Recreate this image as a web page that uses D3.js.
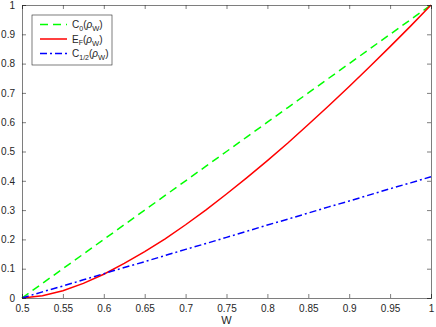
<!DOCTYPE html>
<html>
<head>
<meta charset="utf-8">
<script src="https://cdn.jsdelivr.net/npm/d3@7"></script>
<style>
  body { margin: 0; background: #fff; }
  svg { font-family: "Liberation Sans", Arial, Helvetica, sans-serif; }
</style>
</head>
<body>
<div id="chart"></div>
<script>
// W grid and the three curves
var wValues = [0.5, 0.525, 0.55, 0.575, 0.6, 0.625, 0.65, 0.675, 0.7, 0.725, 0.75,
               0.775, 0.8, 0.825, 0.85, 0.875, 0.9, 0.925, 0.95, 0.975, 1];
var c0Values = [0, 0.05, 0.1, 0.15, 0.2, 0.25, 0.3, 0.35, 0.4, 0.45, 0.5,
                0.55, 0.6, 0.65, 0.7, 0.75, 0.8, 0.85, 0.9, 0.95, 1];
var efValues = [0, 0.008, 0.025, 0.050, 0.081, 0.118, 0.158, 0.202, 0.250, 0.301, 0.355,
                0.411, 0.469, 0.529, 0.592, 0.656, 0.722, 0.789, 0.858, 0.928, 1];
var cHalfValues = [0, 0.021, 0.041, 0.062, 0.083, 0.104, 0.124, 0.145, 0.166, 0.186, 0.207,
                   0.228, 0.249, 0.269, 0.290, 0.311, 0.331, 0.352, 0.373, 0.393, 0.414];
var xTicks = [0.5, 0.55, 0.6, 0.65, 0.7, 0.75, 0.8, 0.85, 0.9, 0.95, 1];
var yTicks = [0, 0.1, 0.2, 0.3, 0.4, 0.5, 0.6, 0.7, 0.8, 0.9, 1];

var width = 436, height = 327;
var margin = {left: 22, right: 5, top: 5, bottom: 29};
var axisColor = "#262626";

var svg = d3.select("#chart").append("svg")
    .attr("width", width)
    .attr("height", height);

var x = d3.scaleLinear().domain([0.5, 1]).range([margin.left, width - margin.right]);
var y = d3.scaleLinear().domain([0, 1]).range([height - margin.bottom, margin.top]);

var fmt = function (d) { return String(+d.toFixed(2)); };

// plot lines
var series = [
    {name: "C0", values: c0Values, color: "#00ff00", dash: "8,5"},
    {name: "EF", values: efValues, color: "#ff0000", dash: null},
    {name: "Chalf", values: cHalfValues, color: "#0000ff", dash: "7,3,2,3"}
];

var line = d3.line()
    .x(function (d) { return x(d[0]); })
    .y(function (d) { return y(d[1]); });

series.forEach(function (s) {
    svg.append("path")
        .datum(wValues.map(function (w, i) { return [w, s.values[i]]; }))
        .attr("fill", "none")
        .attr("stroke", s.color)
        .attr("stroke-width", 1.5)
        .attr("stroke-dasharray", s.dash)
        .attr("d", line);
});

// axes (ticks inward, box all round)
var bottomAxis = d3.axisBottom(x).tickValues(xTicks).tickSize(-4).tickPadding(7).tickFormat(fmt);
var leftAxis = d3.axisLeft(y).tickValues(yTicks).tickSize(-4).tickPadding(7).tickFormat(fmt);
var topAxis = d3.axisTop(x).tickValues(xTicks).tickSize(-4).tickFormat("");
var rightAxis = d3.axisRight(y).tickValues(yTicks).tickSize(-4).tickFormat("");

function styleAxis(g) {
    g.selectAll("path.domain").attr("stroke", axisColor).attr("stroke-width", 0.6);
    g.selectAll(".tick line").attr("stroke", axisColor).attr("stroke-width", 0.6);
    g.selectAll(".tick text").attr("fill", axisColor).style("font-size", "10px");
    g.attr("font-family", null);
}

svg.append("g").attr("transform", "translate(0," + y(0) + ")").call(bottomAxis).call(styleAxis);
svg.append("g").attr("transform", "translate(" + x(0.5) + ",0)").call(leftAxis).call(styleAxis);
svg.append("g").attr("transform", "translate(0," + y(1) + ")").call(topAxis).call(styleAxis);
svg.append("g").attr("transform", "translate(" + x(1) + ",0)").call(rightAxis).call(styleAxis);

// x label
svg.append("text")
    .attr("x", (x(0.5) + x(1)) / 2)
    .attr("y", 324)
    .attr("text-anchor", "middle")
    .attr("fill", axisColor)
    .style("font-size", "11px")
    .text("W");

// legend
var legend = svg.append("g").attr("transform", "translate(32,15)");
legend.append("rect")
    .attr("width", 80)
    .attr("height", 50)
    .attr("fill", "#fff")
    .attr("stroke", axisColor)
    .attr("stroke-width", 0.6);

var legendLabels = [
    {main: "C", sub: "0"},
    {main: "E", sub: "F"},
    {main: "C", sub: "1/2"}
];

legendLabels.forEach(function (l, i) {
    var ly = 9.5 + i * 14.5;
    legend.append("line")
        .attr("x1", 8).attr("x2", 35)
        .attr("y1", ly).attr("y2", ly)
        .attr("stroke", series[i].color)
        .attr("stroke-width", 1.5)
        .attr("stroke-dasharray", series[i].dash);
    var t = legend.append("text")
        .attr("x", 40)
        .attr("y", ly + 3.5)
        .attr("fill", axisColor)
        .style("font-size", "10px");
    t.append("tspan").text(l.main);
    t.append("tspan").attr("dy", 2.5).style("font-size", "7px").text(l.sub);
    t.append("tspan").attr("dy", -2.5).text("(");
    t.append("tspan").style("font-style", "italic").text("\u03c1");
    t.append("tspan").attr("dy", 3).style("font-size", "7.5px").text("W");
    t.append("tspan").attr("dy", -3).text(")");
});
</script>
</body>
</html>
